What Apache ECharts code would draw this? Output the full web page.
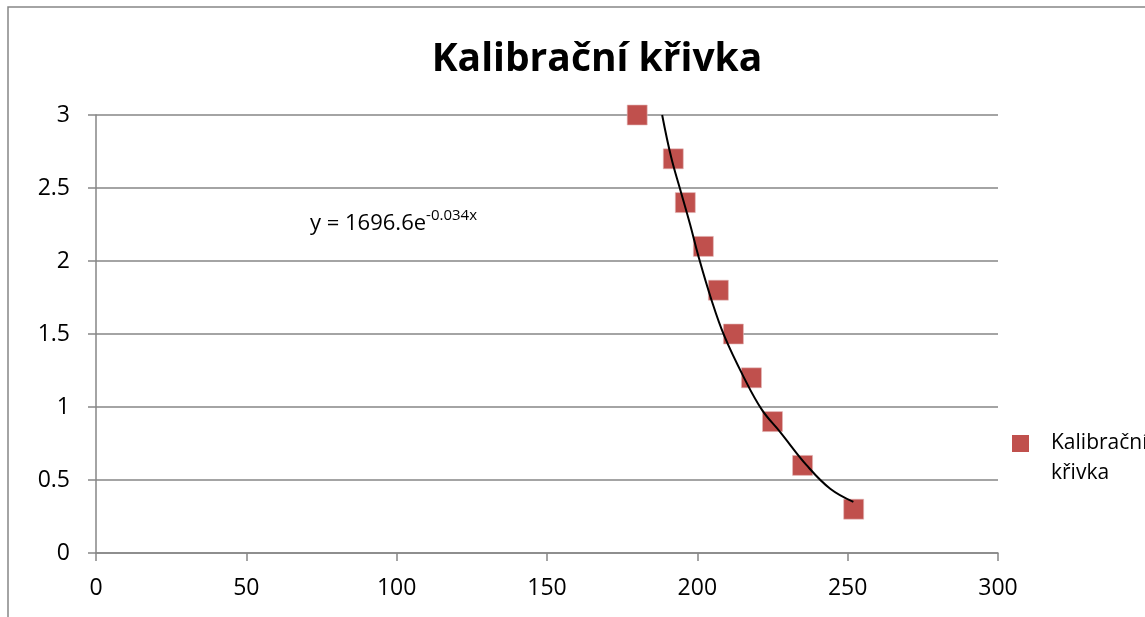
<!DOCTYPE html>
<html>
<head>
<meta charset="utf-8">
<script src="https://cdn.jsdelivr.net/npm/echarts@6/dist/echarts.min.js"></script>
<style>
  html, body { margin: 0; padding: 0; background: #fff; }
  #chart { width: 1145px; height: 617px; }
</style>
</head>
<body>
<div id="chart"></div>
<script>
// measured points (x = value, y = concentration)
const pointX = [180, 192, 196, 202, 207, 212, 218, 225, 235, 252];
const pointY = [3, 2.7, 2.4, 2.1, 1.8, 1.5, 1.2, 0.9, 0.6, 0.3];

// exponential trendline
const trendX = [188.3, 191.3, 194.3, 197.6, 200.4, 204.6, 208.9, 215.3, 221.5, 227.5, 236.4, 244.2, 251.9];
const trendY = [3.0, 2.71, 2.49, 2.25, 2.03, 1.74, 1.49, 1.21, 0.98, 0.83, 0.6, 0.44, 0.35];

const seriesName = "Kalibrační křivka";
const equationMain = "y = 1696.6e";
const equationExp = "-0.034x";

const gray = "#868686";
const red = "#C0504D";
const font = "'Open Sans', 'Noto Sans', sans-serif";

const chart = echarts.init(document.getElementById("chart"));

const option = {
  animation: false,
  backgroundColor: "#fff",
  textStyle: { fontFamily: font },
  title: {
    text: seriesName,
    left: 592,
    textAlign: "center",
    top: 35,
    textStyle: {
      fontFamily: font,
      fontSize: 39,
      fontWeight: "bold",
      color: "#000",
    },
  },
  legend: {
    data: [{
      name: seriesName,
      // square at the top so it lines up with the first text line
      icon: "path://M0,0L17,0L17,17L0,17Z M0,46L0.01,46L0.01,46.01Z",
    }],
    left: 1007,
    top: 423,
    itemWidth: 17,
    itemHeight: 46,
    formatter: () => "Kalibrační\nkřivka",
    itemStyle: { color: red, borderWidth: 0 },
    textStyle: {
      fontFamily: font,
      fontSize: 21,
      lineHeight: 30,
      color: "#000",
      padding: [0, 0, 0, 17],
    },
  },
  grid: {
    left: 96,
    right: 147,
    top: 115,
    bottom: 64,
    containLabel: false,
  },
  xAxis: {
    type: "value",
    min: 0,
    max: 300,
    interval: 50,
    axisLine: { show: true, lineStyle: { color: gray, width: 1.5 } },
    axisTick: { show: true, length: 8, lineStyle: { color: gray, width: 1.5 } },
    splitLine: { show: false },
    axisLabel: {
      margin: 24,
      fontSize: 23,
      fontFamily: font,
      color: "#000",
    },
  },
  yAxis: {
    type: "value",
    min: 0,
    max: 3,
    interval: 0.5,
    axisLine: { show: true, lineStyle: { color: gray, width: 1.5 } },
    axisTick: { show: true, length: 8, lineStyle: { color: gray, width: 1.5 } },
    splitLine: { show: true, lineStyle: { color: gray, width: 1.5 } },
    axisLabel: {
      margin: 26,
      fontSize: 23,
      fontFamily: font,
      color: "#000",
    },
  },
  graphic: [
    {
      type: "rect",
      shape: { x: 8, y: 7, width: 1300, height: 800 },
      style: { fill: "none", stroke: gray, lineWidth: 1.5 },
      silent: true,
      z: -1,
    },
    {
      type: "text",
      left: 310,
      top: 208,
      style: {
        text: "{a|" + equationMain + "}{b|" + equationExp + "}",
        rich: {
          a: { fontFamily: font, fontSize: 22, color: "#000", lineHeight: 32 },
          b: { fontFamily: font, fontSize: 15, color: "#000", verticalAlign: "top", lineHeight: 32, padding: [0, 0, 14, 0] },
        },
      },
    },
  ],
  series: [
    {
      name: "trend",
      type: "line",
      data: trendX.map((x, i) => [x, trendY[i]]),
      smooth: 0.4,
      showSymbol: false,
      lineStyle: { color: "#000", width: 2 },
      z: 3,
    },
    {
      name: seriesName,
      type: "scatter",
      symbol: "rect",
      symbolSize: 20,
      data: pointX.map((x, i) => [x, pointY[i]]),
      itemStyle: { color: red, opacity: 1, borderColor: "#e3b9b8", borderWidth: 0.6 },
      z: 2,
    },
  ],
};

chart.setOption(option);
</script>
</body>
</html>
